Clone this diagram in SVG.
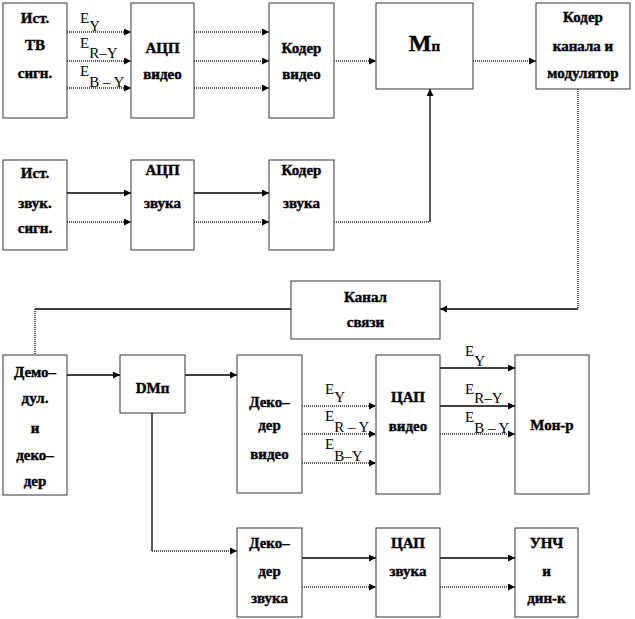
<svg xmlns="http://www.w3.org/2000/svg" width="635" height="619" viewBox="0 0 635 619">
<style>
.box{fill:#fff;stroke:#333;stroke-width:1}
.t{font-weight:bold;font-size:15px;text-anchor:middle;fill:#000;stroke:#000;stroke-width:0.4}
.e{font-size:15px;fill:#000}
.s{fill:none;stroke:#000;stroke-width:1.3}
.d{fill:none;stroke:#222;stroke-width:1.5;stroke-dasharray:1 1}
.a{marker-end:url(#ah)}
</style>
<defs>
<marker id="ah" markerUnits="userSpaceOnUse" markerWidth="8" markerHeight="8" refX="7" refY="3.5" orient="auto">
<path d="M0,0 L7,3.5 L0,7 Z" fill="#000"/>
</marker>
</defs>
<rect width="635" height="619" fill="#fff"/>

<g id="connectors">
<path class="d a" d="M67,32 H131"/>
<path class="d a" d="M67,61 H131"/>
<path class="d a" d="M67,88 H131"/>
<path class="d a" d="M194,32 H269"/>
<path class="d a" d="M194,61 H269"/>
<path class="d a" d="M194,88 H269"/>
<path class="d a" d="M334,61 H376"/>
<path class="d a" d="M473,61 H536"/>
<path class="d" d="M334,222 H430"/>
<path class="s a" d="M430,222 V89"/>
<path class="d" d="M578,89 V309"/>
<path class="s a" d="M578,309 H440"/>
<path class="s a" d="M67,193 H131"/>
<path class="d a" d="M67,222 H131"/>
<path class="s a" d="M194,193 H269"/>
<path class="d a" d="M194,222 H269"/>
<path class="s" d="M291,309 H35"/>
<path class="d" d="M35,309 V355"/>
<path class="s a" d="M67,375 H120"/>
<path class="s a" d="M185,375 H237"/>
<path class="d a" d="M302,406 H376"/>
<path class="d a" d="M302,434 H376"/>
<path class="d a" d="M302,463 H376"/>
<path class="s a" d="M440,368 H515"/>
<path class="s a" d="M440,406 H515"/>
<path class="d a" d="M440,434 H515"/>
<path class="s" d="M152,413 V551"/>
<path class="d a" d="M152,551 H237"/>
<path class="s a" d="M302,558 H376"/>
<path class="d a" d="M302,587 H376"/>
<path class="s a" d="M440,558 H515"/>
<path class="d a" d="M440,587 H515"/>
</g>

<g id="labels" font-family="'Liberation Serif', 'Times New Roman', serif">
<text class="e" x="80" y="23">E<tspan dy="8">Y</tspan></text>
<text class="e" x="80" y="48">E<tspan dy="10">R–Y</tspan></text>
<text class="e" x="80" y="76">E<tspan dy="11">B – Y</tspan></text>
<text class="e" x="325" y="394">E<tspan dy="8">Y</tspan></text>
<text class="e" x="325" y="421">E<tspan dy="11">R – Y</tspan></text>
<text class="e" x="325" y="449">E<tspan dy="12">B–Y</tspan></text>
<text class="e" x="465" y="356">E<tspan dy="10">Y</tspan></text>
<text class="e" x="465" y="394">E<tspan dy="9">R–Y</tspan></text>
<text class="e" x="465" y="422">E<tspan dy="11">B – Y</tspan></text>
</g>

<g id="nodes" font-family="'Liberation Serif', 'Times New Roman', serif">
<g id="src_tv"><rect class="box" x="3" y="3" width="64" height="115"/>
<text class="t" x="35" y="23">Ист.</text><text class="t" x="35" y="50">ТВ</text><text class="t" x="35" y="78">сигн.</text></g>
<g id="adc_video"><rect class="box" x="131" y="3" width="63" height="115"/>
<text class="t" x="162.5" y="53">АЦП</text><text class="t" x="162.5" y="79">видео</text></g>
<g id="coder_video"><rect class="box" x="269" y="3" width="65" height="115"/>
<text class="t" x="301.5" y="53">Кодер</text><text class="t" x="301.5" y="79">видео</text></g>
<g id="mux"><rect class="box" x="376" y="3" width="97" height="86"/>
<text class="t" x="424.5" y="51" style="font-size:24px">M<tspan style="font-size:15px">п</tspan></text></g>
<g id="coder_channel"><rect class="box" x="536" y="3" width="94" height="86"/>
<text class="t" x="583" y="22">Кодер</text><text class="t" x="583" y="51">канала и</text><text class="t" x="583" y="78">модулятор</text></g>

<g id="src_audio"><rect class="box" x="3" y="160" width="64" height="90"/>
<text class="t" x="35" y="178">Ист.</text><text class="t" x="35" y="208">звук.</text><text class="t" x="35" y="233">сигн.</text></g>
<g id="adc_audio"><rect class="box" x="131" y="160" width="63" height="90"/>
<text class="t" x="162.5" y="175">АЦП</text><text class="t" x="162.5" y="208">звука</text></g>
<g id="coder_audio"><rect class="box" x="269" y="160" width="65" height="90"/>
<text class="t" x="301.5" y="175">Кодер</text><text class="t" x="301.5" y="208">звука</text></g>

<g id="channel"><rect class="box" x="291" y="281" width="149" height="58"/>
<text class="t" x="365.5" y="302">Канал</text><text class="t" x="365.5" y="327">связи</text></g>

<g id="demod"><rect class="box" x="3" y="355" width="64" height="140"/>
<text class="t" x="35" y="377">Демо–</text><text class="t" x="35" y="403">дул.</text><text class="t" x="35" y="433">и</text><text class="t" x="35" y="460">деко–</text><text class="t" x="35" y="486">дер</text></g>
<g id="demux"><rect class="box" x="120" y="355" width="65" height="58"/>
<text class="t" x="152.5" y="393">DMп</text></g>
<g id="decoder_video"><rect class="box" x="237" y="355" width="65" height="138"/>
<text class="t" x="269.5" y="407">Деко–</text><text class="t" x="269.5" y="430">дер</text><text class="t" x="269.5" y="459">видео</text></g>
<g id="dac_video"><rect class="box" x="376" y="355" width="64" height="139"/>
<text class="t" x="408" y="402">ЦАП</text><text class="t" x="408" y="431">видео</text></g>
<g id="monitor"><rect class="box" x="515" y="355" width="74" height="139"/>
<text class="t" x="552" y="430">Мон-р</text></g>

<g id="decoder_audio"><rect class="box" x="237" y="528" width="65" height="89"/>
<text class="t" x="269.5" y="548">Деко–</text><text class="t" x="269.5" y="576">дер</text><text class="t" x="269.5" y="603">звука</text></g>
<g id="dac_audio"><rect class="box" x="376" y="528" width="64" height="89"/>
<text class="t" x="408" y="548">ЦАП</text><text class="t" x="408" y="576">звука</text></g>
<g id="amp"><rect class="box" x="515" y="528" width="63" height="89"/>
<text class="t" x="546.5" y="548">УНЧ</text><text class="t" x="546.5" y="576">и</text><text class="t" x="546.5" y="603">дин-к</text></g>
</g>
</svg>
